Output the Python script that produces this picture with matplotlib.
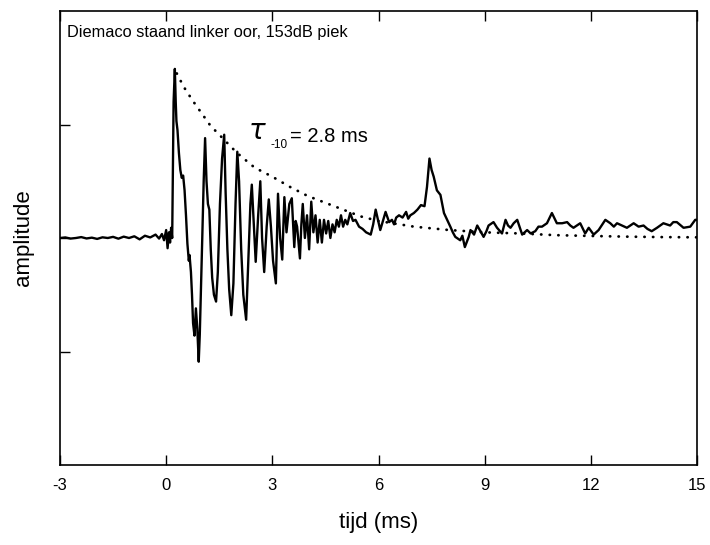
import matplotlib.pyplot as plt

plt.rcParams['font.family'] = ['Liberation Sans', 'DejaVu Sans']
plt.rcParams['axes.unicode_minus'] = False

tijd = [-3.0, -2.85, -2.7, -2.55, -2.4, -2.25, -2.1, -1.95, -1.8, -1.65,
        -1.5, -1.35, -1.2, -1.05, -0.9, -0.75, -0.6, -0.45, -0.3, -0.2,
        -0.12, -0.06, 0.0, 0.04, 0.08, 0.11, 0.14, 0.17,
        0.21, 0.245, 0.27, 0.29, 0.32, 0.36, 0.4, 0.44, 0.48, 0.52,
        0.56, 0.6, 0.64, 0.66, 0.7, 0.73, 0.76, 0.8, 0.84, 0.88,
        0.92, 0.95, 0.98, 1.02, 1.06, 1.1, 1.14, 1.18, 1.22, 1.26,
        1.3, 1.35, 1.41, 1.46, 1.52, 1.58, 1.64, 1.68, 1.73, 1.78,
        1.84, 1.9, 1.96, 2.01, 2.06, 2.12, 2.18, 2.26, 2.32, 2.38,
        2.42, 2.48, 2.53, 2.6, 2.66, 2.71, 2.77, 2.84, 2.9, 2.96,
        3.02, 3.1, 3.16, 3.22, 3.28, 3.34, 3.4, 3.44, 3.48, 3.55, 3.62,
        3.66, 3.7, 3.78, 3.82, 3.86, 3.92, 3.98, 4.04, 4.1, 4.16, 4.22, 4.28,
        4.34, 4.4, 4.46, 4.52, 4.58, 4.64, 4.7, 4.76, 4.82, 4.88,
        4.94, 5.0, 5.06, 5.12, 5.2, 5.28, 5.35, 5.45, 5.55, 5.65,
        5.78, 5.85, 5.92, 6.05, 6.2, 6.3, 6.38, 6.44, 6.5, 6.58, 6.68, 6.78,
        6.84, 6.9, 7.0, 7.1, 7.2, 7.3, 7.37, 7.44, 7.5, 7.56, 7.65,
        7.75, 7.85, 7.94, 8.03, 8.1, 8.17, 8.31, 8.37, 8.44, 8.55, 8.6, 8.7, 8.79,
        8.97, 9.05, 9.11, 9.25, 9.35, 9.49, 9.59, 9.66, 9.73, 9.82, 9.92, 10.06, 10.2,
        10.3, 10.43, 10.52, 10.62, 10.76, 10.9, 11.04, 11.19, 11.33, 11.42, 11.51, 11.7, 11.84,
        11.94, 12.08, 12.22, 12.41, 12.55, 12.65, 12.74, 12.88, 13.02, 13.21, 13.35, 13.49,
        13.6, 13.72, 13.87, 14.05, 14.24, 14.33, 14.43, 14.62, 14.81, 14.95, 15.0]
amplitude = [0.0, 0.005, -0.005, 0.0, 0.008, -0.004, 0.003, -0.008, 0.006, 0.0,
             0.01, -0.006, 0.012, 0.0, 0.015, -0.012, 0.02, 0.005, 0.03, -0.005,
             0.035, -0.02, 0.07, -0.09, 0.05, -0.04, 0.09, 0.0,
             1.2, 1.49, 1.2, 1.03, 0.95, 0.75, 0.6, 0.53, 0.55, 0.42,
             0.2, -0.05, -0.2, -0.15, -0.3, -0.5, -0.75, -0.86, -0.62, -0.8,
             -1.09, -0.85, -0.5, 0.0, 0.5, 0.88, 0.5, 0.3, 0.25, -0.1,
             -0.35, -0.5, -0.56, -0.3, 0.3, 0.7, 0.91, 0.4, -0.1, -0.45,
             -0.68, -0.4, 0.3, 0.76, 0.5, -0.1, -0.5, -0.72, -0.2, 0.3,
             0.47, 0.1, -0.21, 0.2, 0.5, 0.0, -0.3, 0.1, 0.34, 0.1,
             -0.2, -0.4, 0.39, 0.0, -0.19, 0.36, 0.05, 0.18, 0.3, 0.35, -0.08,
             0.15, 0.1, -0.18, 0.12, 0.3, 0.0, 0.2, -0.1, 0.32, 0.05, 0.2, -0.04,
             0.16, -0.04, 0.16, 0.04, 0.15, 0.0, 0.12, 0.05, 0.16, 0.1,
             0.2, 0.1, 0.16, 0.12, 0.22, 0.15, 0.16, 0.1, 0.08, 0.05,
             0.03, 0.12, 0.25, 0.07, 0.23, 0.14, 0.16, 0.12, 0.18, 0.2, 0.18, 0.23,
             0.17, 0.2, 0.22, 0.25, 0.29, 0.28, 0.45, 0.7, 0.6, 0.54, 0.42,
             0.38, 0.22, 0.16, 0.1, 0.05, 0.01, -0.02, 0.02, -0.08, 0.01, 0.07, 0.03, 0.11,
             0.01, 0.06, 0.11, 0.14, 0.09, 0.04, 0.16, 0.11, 0.09, 0.13, 0.16, 0.03, 0.07,
             0.04, 0.06, 0.1, 0.1, 0.13, 0.22, 0.13, 0.13, 0.14, 0.11, 0.09, 0.13, 0.04,
             0.09, 0.03, 0.07, 0.16, 0.13, 0.1, 0.13, 0.11, 0.09, 0.13, 0.1, 0.11,
             0.08, 0.06, 0.09, 0.13, 0.11, 0.14, 0.14, 0.09, 0.1, 0.16, 0.16]

omh_tijd = [0.3, 0.5, 0.75, 1.0, 1.25, 1.5, 1.75, 2.0, 2.5, 3.0,
            3.5, 4.0, 4.5, 5.0, 5.5, 6.0, 7.0, 8.0, 9.0, 10.0,
            11.0, 12.0, 13.0, 14.0, 15.0]
omh_amp = [1.45, 1.33, 1.21, 1.10, 0.99, 0.91, 0.83, 0.75, 0.62, 0.54,
           0.45, 0.37, 0.31, 0.25, 0.19, 0.15, 0.10, 0.07, 0.05, 0.04,
           0.025, 0.018, 0.012, 0.008, 0.006]

fig = plt.figure(figsize=(7.1, 5.45), dpi=100)
ax = fig.add_axes([60 / 710, 80 / 545, 637 / 710, 454 / 545])

ax.plot(omh_tijd, omh_amp, color='black', lw=2, linestyle=(0, (0.1, 3)),
        dash_capstyle='round')
ax.plot(tijd, amplitude, color='black', lw=1.7)

ax.set_xlim(-3, 15)
ax.set_ylim(-2, 2)
ax.set_xticks([-3, 0, 3, 6, 9, 12, 15])
ax.set_yticks([-1, 0, 1])
ax.set_yticklabels([])
ax.tick_params(direction='in', length=7, width=1, top=True, labelsize=12, pad=9)
for s in ax.spines.values():
    s.set_linewidth(1.2)

ax.set_xlabel('tijd (ms)', fontsize=16, labelpad=14)
ax.set_ylabel('amplitude', fontsize=16, labelpad=10)

ax.text(-2.8, 1.81, 'Diemaco staand linker oor, 153dB piek', fontsize=11.8,
        ha='left', va='center')
ax.text(2.3, 0.93, r'$\mathit{\tau}$', fontsize=20, ha='left', va='center')
ax.text(2.95, 0.82, '-10', fontsize=8.5, ha='left', va='center')
ax.text(3.5, 0.89, '= 2.8 ms', fontsize=14.5, ha='left', va='center')

fig.savefig('out.png', dpi=100)
